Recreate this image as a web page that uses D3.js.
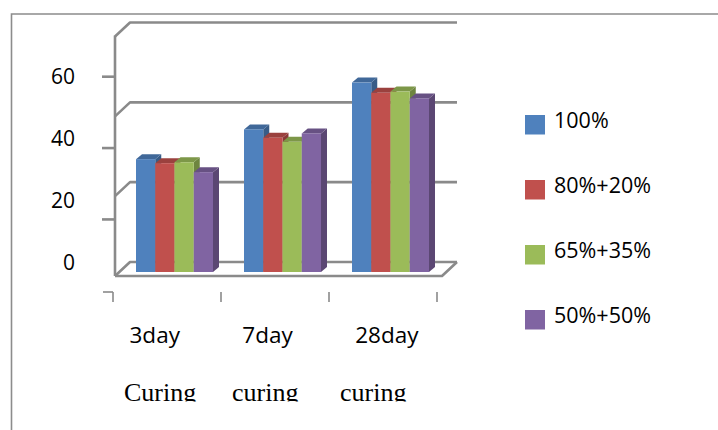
<!DOCTYPE html>
<html>
<head>
<meta charset="utf-8">
<script src="https://cdn.jsdelivr.net/npm/d3@7"></script>
<style>
  html, body { margin: 0; padding: 0; background: #ffffff; }
  svg { display: block; }
</style>
</head>
<body>
<svg id="chart" width="718" height="430"></svg>
<script>
// Compressive strength by curing age, four binder mixes
const categories = ["3day", "7day", "28day"];
const curingLabels = ["Curing", "curing", "curing"];
const seriesNames = ["100%", "80%+20%", "65%+35%", "50%+50%"];
const series100 = [36.4, 46.0, 61.1];
const series80 = [35.1, 43.3, 57.8];
const series65 = [35.4, 42.0, 58.2];
const series50 = [32.2, 44.7, 56.0];
const yTickLabels = [0, 20, 40, 60];
const wallGridValues = [0, 20, 40, 60];
const sideTickValues = [20, 40, 60];
const seriesColors = ["#4F81BD", "#C0504D", "#9BBB59", "#8064A2"];

const allSeries = [series100, series80, series65, series50];

const svg = d3.select("#chart");
const lineColor = "#8a8a8a";
const labelFont = "'Open Sans', 'Liberation Sans', sans-serif";

// 3D projection offsets
const wallDepth = { dx: 15, dy: 14 };
const barDepth = { dx: 6, dy: 5 };

// scales
const x = d3.scaleBand().domain(categories).range([113, 437]);
const seriesBand = d3.scaleBand().domain(d3.range(seriesNames.length)).range([0, 77]);
const y = d3.scaleLinear().domain([0, 60]).range([272, 86]);
const wallY = d3.scaleLinear().domain([0, 60]).range([262, 22.5]);
const sideTickY = d3.scaleLinear().domain([0, 60]).range([290.8, 76.7]);
const dayLabelX = d3.scalePoint().domain(categories).range([129.5, 355.2]);
const curingX = d3.scalePoint().domain(d3.range(curingLabels.length)).range([124, 340]);
const legendY = d3.scalePoint().domain(seriesNames).range([115, 310]);

// outer frame
svg.append("path")
  .attr("d", "M11.5,430 L11.5,14 L718,14")
  .attr("fill", "none")
  .attr("stroke", "#8c8c8c")
  .attr("stroke-width", 1.6);

// back wall gridlines and left wall edges
const walls = svg.append("g")
  .attr("fill", "none")
  .attr("stroke", lineColor)
  .attr("stroke-width", 2.6)
  .attr("stroke-linejoin", "round");

const wallLeft = 130, wallRight = 457;
const frontLeft = wallLeft - wallDepth.dx;

wallGridValues.forEach(v => {
  walls.append("path")
    .attr("d", `M${frontLeft},${wallY(v) + wallDepth.dy} L${wallLeft},${wallY(v)} L${wallRight},${wallY(v)}`);
});

walls.append("line")
  .attr("x1", frontLeft).attr("x2", frontLeft)
  .attr("y1", wallY(60) + wallDepth.dy - 1)
  .attr("y2", wallY(0) + wallDepth.dy);

// floor front edge
walls.append("path")
  .attr("d", `M${frontLeft},${wallY(0) + wallDepth.dy} L${wallRight - wallDepth.dx},${wallY(0) + wallDepth.dy} L${wallRight},${wallY(0)}`);

// value ticks on the left edge
walls.selectAll("line.vtick")
  .data(sideTickValues)
  .join("line")
  .attr("class", "vtick")
  .attr("x1", 102).attr("x2", frontLeft)
  .attr("y1", d => sideTickY(d)).attr("y2", d => sideTickY(d));

// category ticks
const catTickXs = categories.map(c => x(c)).concat([x.range()[1]]);
const catTicks = svg.append("g")
  .attr("fill", "none")
  .attr("stroke", lineColor)
  .attr("stroke-width", 1.6);
catTicks.selectAll("line")
  .data(catTickXs)
  .join("line")
  .attr("x1", d => d).attr("x2", d => d)
  .attr("y1", 292).attr("y2", 302);
catTicks.append("line")
  .attr("x1", 103).attr("x2", catTickXs[0])
  .attr("y1", 292).attr("y2", 292);

// bars
const groupOffset = (x.bandwidth() - (seriesBand.range()[1] - seriesBand.range()[0])) / 2 + 7.5;
const barW = seriesBand.bandwidth();
const bars = svg.append("g");

categories.forEach((cat, i) => {
  const g = bars.append("g");
  allSeries.forEach((vals, j) => {
    const x0 = x(cat) + groupOffset + seriesBand(j);
    const x1 = x0 + barW;
    const yt = y(vals[i]);
    const yb = y(0);
    const base = d3.color(seriesColors[j]);
    // side face
    g.append("path")
      .attr("d", `M${x1},${yt} L${x1 + barDepth.dx},${yt - barDepth.dy} L${x1 + barDepth.dx},${yb - barDepth.dy} L${x1},${yb} Z`)
      .attr("fill", base.darker(0.95).formatHex());
    // top face
    g.append("path")
      .attr("d", `M${x0},${yt} L${x0 + barDepth.dx},${yt - barDepth.dy} L${x1 + barDepth.dx},${yt - barDepth.dy} L${x1},${yt} Z`)
      .attr("fill", base.darker(0.6).formatHex());
    // front face
    g.append("rect")
      .attr("x", x0).attr("y", yt)
      .attr("width", barW).attr("height", yb - yt)
      .attr("fill", seriesColors[j]);
  });
});

// value labels
const yAxis = svg.append("g")
  .attr("transform", "translate(75,-9.5)")
  .call(d3.axisLeft(y).tickValues(yTickLabels).tickSize(0).tickPadding(0));
yAxis.select(".domain").remove();
yAxis.selectAll("text")
  .attr("font-family", labelFont)
  .attr("font-size", 21)
  .attr("fill", "#000");

// category labels
svg.append("g")
  .selectAll("text")
  .data(categories)
  .join("text")
  .attr("x", d => dayLabelX(d))
  .attr("y", 343.3)
  .attr("font-family", labelFont)
  .attr("font-size", 22.5)
  .attr("fill", "#000")
  .text(d => d);

// second line of the category labels, cut off by its box
svg.append("clipPath").attr("id", "curingClip")
  .append("rect").attr("x", 0).attr("y", 360).attr("width", 718).attr("height", 41.5);
svg.append("g")
  .attr("clip-path", "url(#curingClip)")
  .selectAll("text")
  .data(curingLabels)
  .join("text")
  .attr("x", (d, i) => curingX(i))
  .attr("y", 400.5)
  .attr("font-family", "'Liberation Serif', 'Times New Roman', serif")
  .attr("font-size", 26)
  .attr("fill", "#000")
  .text(d => d);

// legend
const legend = svg.append("g");
seriesNames.forEach((name, j) => {
  legend.append("rect")
    .attr("x", 525).attr("y", legendY(name))
    .attr("width", 20).attr("height", 19.5)
    .attr("fill", seriesColors[j]);
  legend.append("text")
    .attr("x", 554).attr("y", legendY(name) + 12.5)
    .attr("font-family", labelFont)
    .attr("font-size", 21.5)
    .attr("fill", "#000")
    .text(name);
});
</script>
</body>
</html>
